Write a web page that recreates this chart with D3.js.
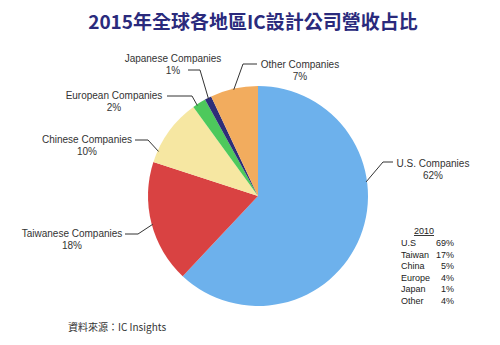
<!DOCTYPE html>
<html>
<head>
<meta charset="utf-8">
<script src="https://cdn.jsdelivr.net/npm/d3@7/dist/d3.min.js"></script>
<style>
  html, body { margin: 0; padding: 0; background: #fff; }
  svg { display: block; }
</style>
</head>
<body>
<svg id="chart" width="500" height="345"></svg>
<script>
// 2015 share of IC design company revenue by region
const categories = ["U.S. Companies", "Taiwanese Companies", "Chinese Companies",
                    "European Companies", "Japanese Companies", "Other Companies"];
const shares2015 = [62, 18, 10, 2, 1, 7];
const sliceColors = ["#6DB1EC", "#D94242", "#F6E7A2", "#4DC95C", "#2E2E78", "#F2AC5E"];

// 2010 comparison table
const regions2010 = ["U.S", "Taiwan", "China", "Europe", "Japan", "Other"];
const shares2010 = [69, 17, 5, 4, 1, 4];

const titleText = "2015年全球各地區IC設計公司營收占比";
const sourceText = "資料來源：IC Insights";

// label layout: text centre, leader start/elbow, and where along the slice
// (0 = start angle, 1 = end angle) the leader meets the rim
const labelLayout = [
  { x: 433, y: 167, lineY: 162, x0: 393, x1: 383, t: 0.37 },
  { x: 72,  y: 237, lineY: 234, x0: 125, x1: 138, t: 0.49 },
  { x: 87,  y: 143, lineY: 140, x0: 135, x1: 148, t: 0.17 },
  { x: 114, y: 99,  lineY: 96,  x0: 167, x1: 192, t: 0.30 },
  { x: 173, y: 62,  lineY: 70,  x0: 188, x1: 200, t: 0.50 },
  { x: 300, y: 68,  lineY: 64,  x0: 257, x1: 243, t: 0.49 }
];

const svg = d3.select("#chart");
const cx = 258, cy = 196, r = 110;

svg.append("text")
  .attr("x", 253).attr("y", 29)
  .attr("text-anchor", "middle")
  .attr("font-family", "'Noto Sans CJK TC', 'Noto Sans CJK SC', sans-serif")
  .attr("font-weight", "bold")
  .attr("font-size", 19)
  .attr("fill", "#2A2A7C")
  .text(titleText);

const pie = d3.pie().sort(null).value(d => d);
const arcs = pie(shares2015);
const arc = d3.arc().innerRadius(0).outerRadius(r);

const g = svg.append("g").attr("transform", `translate(${cx},${cy})`);
g.selectAll("path.slice")
  .data(arcs)
  .join("path")
  .attr("class", "slice")
  .attr("d", arc)
  .attr("fill", (d, i) => sliceColors[i]);

// leader lines and labels
const labelFont = "'Liberation Sans', Arial, sans-serif";
arcs.forEach((a, i) => {
  const p = labelLayout[i];
  const ang = a.startAngle + (a.endAngle - a.startAngle) * p.t;
  const ex = cx + Math.sin(ang) * (r - 1);
  const ey = cy - Math.cos(ang) * (r - 1);
  svg.append("polyline")
    .attr("points", `${p.x0},${p.lineY} ${p.x1},${p.lineY} ${ex},${ey}`)
    .attr("fill", "none")
    .attr("stroke", "#333")
    .attr("stroke-width", 1);
  const t = svg.append("text")
    .attr("text-anchor", "middle")
    .attr("font-family", labelFont)
    .attr("font-size", 10)
    .attr("fill", "#333");
  t.append("tspan").attr("x", p.x).attr("y", p.y).text(categories[i]);
  t.append("tspan").attr("x", p.x).attr("y", p.y + 12).text(shares2015[i] + "%");
});

// 2010 table
const tbl = svg.append("g")
  .attr("font-family", labelFont)
  .attr("font-size", 9)
  .attr("fill", "#222");
tbl.append("text").attr("x", 424).attr("y", 234)
  .attr("text-anchor", "middle")
  .attr("text-decoration", "underline")
  .text("2010");
const rowY = d3.scalePoint().domain(regions2010).range([246, 304]);
regions2010.forEach((name, i) => {
  tbl.append("text").attr("x", 401).attr("y", rowY(name)).text(name);
  tbl.append("text").attr("x", 454).attr("y", rowY(name))
    .attr("text-anchor", "end").text(shares2010[i] + "%");
});

svg.append("text")
  .attr("x", 68).attr("y", 331)
  .attr("font-family", "'Noto Sans CJK TC', 'Liberation Sans', sans-serif")
  .attr("font-size", 10)
  .attr("fill", "#333")
  .text(sourceText);
</script>
</body>
</html>
